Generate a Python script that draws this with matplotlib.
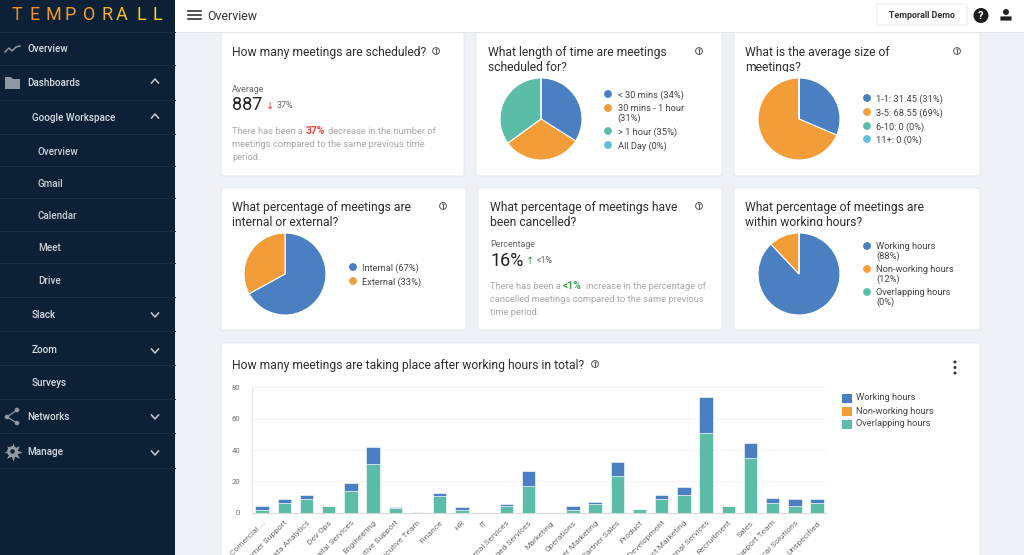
import matplotlib
matplotlib.use("Agg")
import matplotlib.pyplot as plt
from matplotlib.patches import Rectangle, FancyBboxPatch, Circle, Polygon

plt.rcParams["font.family"] = ["Roboto", "DejaVu Sans"]

BLUE = "#4a7fc1"
ORANGE = "#f29d38"
GREEN = "#5bbda8"
LIGHT = "#5fc0dc"
NAVY = "#0d2136"

# pies
length_vals = [34, 31, 35, 0]
length_labels = ["< 30 mins (34%)", "30 mins - 1 hour\n(31%)", "> 1 hour (35%)", "All Day (0%)"]
size_vals = [31.45, 68.55, 0, 0]
size_labels = ["1-1: 31.45 (31%)", "3-5: 68.55 (69%)", "6-10: 0 (0%)", "11+: 0 (0%)"]
internal_vals = [67, 33]
internal_labels = ["Internal (67%)", "External (33%)"]
hours_vals = [88, 12, 0]
hours_labels = ["Working hours\n(88%)", "Non-working hours\n(12%)", "Overlapping hours\n(0%)"]

# bar chart
teams = ["Comercial ...", "Customer Support", "Data Analytics", "Dev Ops", "Digital Services",
         "Engineering", "Executive Support", "Executive Team", "Finance", "HR", "IT",
         "Internal Services", "Managed Services", "Marketing", "Operations", "Partner Marketing",
         "Partner Sales", "Product", "Product Development", "Product Marketing",
         "Professional Services", "Recruitment", "Sales", "Support Team",
         "Technical Solutions", "Unspecified"]
overlapping = [2, 6.5, 9, 4.5, 14, 31, 3, 0.5, 10.5, 1.5, 0, 4.5, 17, 0, 1.5, 5.5,
               23.5, 2.5, 8.5, 11.5, 51, 4.5, 35, 6.5, 4.5, 6.5]
working = [2.5, 2, 2.5, 0, 5, 11, 0.5, 0, 2, 2, 0, 1, 9.5, 0, 3, 1.5,
           9, 0, 2.5, 5, 22.5, 0, 9.5, 3, 4, 2]
y_ticks = [0, 20, 40, 60, 80]

menu = [("Overview", 27, 49, "#d5dbe2"), ("Dashboards", 27, 83, "#d5dbe2"),
        ("Google Workspace", 32, 118, "#d5dbe2"), ("Overview", 38, 152, "#c8d0d8"),
        ("Gmail", 38, 184, "#c8d0d8"), ("Calendar", 38, 216, "#c8d0d8"),
        ("Meet", 38, 248, "#c8d0d8"), ("Drive", 38, 281, "#c8d0d8"),
        ("Slack", 32, 315, "#d5dbe2"), ("Zoom", 32, 350, "#d5dbe2"),
        ("Surveys", 32, 383, "#d5dbe2"), ("Networks", 27, 417, "#d5dbe2"),
        ("Manage", 27, 452, "#d5dbe2")]
menu_lines = [32, 65, 100, 134, 166, 198, 231, 263, 297, 331, 365, 399, 433, 468]
chevrons = [(155, 81, 1), (155, 116, 1), (155, 315, -1), (155, 351, -1), (155, 417, -1), (155, 453, -1)]

fig = plt.figure(figsize=(10.24, 5.55), dpi=100, facecolor="#eef1f6")
bg = fig.add_axes([0, 0, 1, 1])
bg.set_xlim(0, 1024)
bg.set_ylim(555, 0)
bg.axis("off")


def card(x0, y0, x1, y1):
    bg.add_patch(FancyBboxPatch((x0 + 2, y0 + 2), x1 - x0 - 4, y1 - y0 - 4, boxstyle="round,pad=2",
                                fc="white", ec="#e4e7ec", lw=0.7, zorder=1))


def title(x, y, s):
    bg.text(x, y, s, fontsize=8.75, color="#2e2e2e", va="center", linespacing=1.2, zorder=3)


def info(x, y):
    bg.add_patch(Circle((x, y), 3.4, fc="none", ec="#555555", lw=0.7, zorder=3))
    bg.plot([x, x], [y - 0.6, y + 1.8], color="#555555", lw=0.7, zorder=3)
    bg.plot([x], [y - 1.8], ".", color="#555555", ms=1, zorder=3)


def pie(cx, cy, r, vals, colors):
    ax = fig.add_axes([(cx - r) / 1024, 1 - (cy + r) / 555, 2 * r / 1024, 2 * r / 555])
    ax.pie(vals, colors=colors, startangle=90, counterclock=False, radius=1,
           wedgeprops=dict(edgecolor="white", linewidth=0.8))
    ax.set_xlim(-1, 1)
    ax.set_ylim(-1, 1)


def legend(x, ys, labels, colors):
    for y, lab, c in zip(ys, labels, colors):
        bg.add_patch(Circle((x, y), 3.9, fc=c, ec="none", zorder=3))
        bg.text(x + 9.5, y - 4, lab, fontsize=6.65, color="#444444", va="top", linespacing=1.12, zorder=3)


# cards
card(221, 20, 464, 176)
card(476, 20, 722, 176)
card(734, 20, 980, 176)
card(221, 188, 466, 330)
card(478, 188, 722, 330)
card(734, 188, 980, 330)
card(221, 343, 980, 580)

title(232, 52.5, "How many meetings are scheduled?")
info(436, 51)
title(488, 60, "What length of time are meetings\nscheduled for?")
info(699, 51)
title(745, 60, "What is the average size of\nmeetings?")
info(957, 51)
title(232, 215, "What percentage of meetings are\ninternal or external?")
info(443, 206)
title(490, 215, "What percentage of meetings have\nbeen cancelled?")
info(699, 206)
title(745, 215, "What percentage of meetings are\nwithin working hours?")
title(232, 366, "How many meetings are taking place after working hours in total?")
info(595, 364)
# descenders of these two titles are cut off in the page
bg.add_patch(Rectangle((745, 72), 120, 4, fc="white", ec="none", zorder=3.5))
bg.add_patch(Rectangle((745, 226), 120, 4, fc="white", ec="none", zorder=3.5))

# first stat card
bg.text(232, 90, "Average", fontsize=6.4, color="#666666", va="center", zorder=3)
bg.text(232, 105.5, "887", fontsize=13, color="#222222", va="center", zorder=3)
bg.text(270, 105.5, "↓", fontsize=7, color="#e8413c", va="center", ha="center", family="DejaVu Sans", zorder=3)
bg.text(277, 105.5, "37%", fontsize=6.4, color="#666666", va="center", zorder=3)
bg.text(232, 131.5, "There has been a", fontsize=6.75, color="#a9a9a9", va="center", zorder=3)
bg.text(305.5, 131, "37%", fontsize=7.4, color="#e8413c", weight="bold", va="center", zorder=3)
bg.text(328, 131.5, "decrease in the number of", fontsize=6.75, color="#a9a9a9", va="center", zorder=3)
bg.text(232, 144.5, "meetings compared to the same previous time", fontsize=6.75, color="#a9a9a9", va="center", zorder=3)
bg.text(232, 157.5, "period.", fontsize=6.75, color="#a9a9a9", va="center", zorder=3)

# second stat card
bg.text(490, 244.5, "Percentage", fontsize=6.4, color="#666666", va="center", zorder=3)
bg.text(490, 260.5, "16%", fontsize=13, color="#222222", va="center", zorder=3)
bg.text(530, 260.5, "↑", fontsize=7, color="#3fa34d", va="center", ha="center", family="DejaVu Sans", zorder=3)
bg.text(537, 260.5, "<1%", fontsize=6.4, color="#666666", va="center", zorder=3)
bg.text(490, 286.5, "There has been a", fontsize=6.75, color="#a9a9a9", va="center", zorder=3)
bg.text(563, 286, "<1%", fontsize=7.4, color="#3fa34d", weight="bold", va="center", zorder=3)
bg.text(585.5, 286.5, "increase in the percentage of", fontsize=6.75, color="#a9a9a9", va="center", zorder=3)
bg.text(490, 299.5, "cancelled meetings compared to the same previous", fontsize=6.75, color="#a9a9a9", va="center", zorder=3)
bg.text(490, 312.5, "time period.", fontsize=6.75, color="#a9a9a9", va="center", zorder=3)

# pies + legends
pie(541, 119, 41, length_vals, [BLUE, ORANGE, GREEN, LIGHT])
legend(608, [94, 108, 131, 145], length_labels, [BLUE, ORANGE, GREEN, LIGHT])
pie(799, 119, 41, size_vals, [BLUE, ORANGE, GREEN, LIGHT])
legend(867, [98, 112, 126, 139], size_labels, [BLUE, ORANGE, GREEN, LIGHT])
pie(285, 274, 41, internal_vals, [BLUE, ORANGE])
legend(353, [267, 281], internal_labels, [BLUE, ORANGE])
pie(799, 274, 41, hours_vals, [BLUE, ORANGE, GREEN])
legend(867, [246, 269, 292], hours_labels, [BLUE, ORANGE, GREEN])

# stacked bars
ax = fig.add_axes([251.5 / 1024, 1 - 512.7 / 555, (826 - 251.5) / 1024, 125.4 / 555])
xs = list(range(len(teams)))
ax.bar(xs, overlapping, width=0.6, color=GREEN, edgecolor="white", linewidth=0.4, zorder=2)
ax.bar(xs, working, bottom=overlapping, width=0.6, color=BLUE, edgecolor="white", linewidth=0.4, zorder=2)
ax.set_xlim(-0.48, 25.4)
ax.set_ylim(0, 80)
ax.set_yticks(y_ticks)
ax.set_xticks(xs)
ax.set_xticklabels(teams, rotation=45, ha="right", rotation_mode="anchor")
ax.tick_params(axis="x", length=0, labelsize=6, labelcolor="#707070", pad=5)
ax.tick_params(axis="y", length=0, labelsize=5.6, labelcolor="#707070", pad=8)
ax.grid(axis="y", color="#f3f3f3", lw=0.7, zorder=0)
for s in ["top", "right"]:
    ax.spines[s].set_visible(False)
ax.spines["left"].set_color("#e6e6e6")
ax.spines["bottom"].set_color("#d8d8d8")
ax.patch.set_alpha(0)
legend_y = [398, 411, 424]
for y, lab, c in zip(legend_y, ["Working hours", "Non-working hours", "Overlapping hours"], [BLUE, ORANGE, GREEN]):
    bg.add_patch(Rectangle((842, y - 4.5), 10, 9, fc=c, ec="none", zorder=3))
    bg.text(856, y, lab, fontsize=6.7, color="#444444", va="center", zorder=3)
for y in [362, 367.5, 373]:
    bg.add_patch(Circle((955, y), 1.5, fc="#333333", ec="none", zorder=3))

# top bar
bg.add_patch(Rectangle((175, 0), 849, 32, fc="white", ec="none", zorder=4))
bg.plot([175, 1024], [32, 32], color="#e3e5e9", lw=0.8, zorder=4)
for y in [11, 15, 19]:
    bg.plot([188, 201], [y, y], color="#333333", lw=1.2, zorder=5)
bg.text(207, 16, "Overview", fontsize=8.9, color="#333333", va="center", zorder=5)
bg.add_patch(FancyBboxPatch((878, 5), 88, 19, boxstyle="round,pad=1", fc="white", ec="#ececec", lw=0.7, zorder=5))
bg.text(922, 15.5, "Temporall Demo", fontsize=6.4, weight="bold", color="#333333", ha="center", va="center", zorder=6)
bg.add_patch(Circle((981, 15.5), 7.5, fc="#1c1c1c", ec="none", zorder=5))
bg.text(981, 15.8, "?", fontsize=8, weight="bold", color="white", ha="center", va="center", zorder=6)
bg.add_patch(Circle((1006, 12), 3, fc="#222222", ec="none", zorder=5))
bg.add_patch(FancyBboxPatch((1001, 17), 10, 3, boxstyle="round,pad=0.6", fc="#222222", ec="none", zorder=5))

# sidebar
bg.add_patch(Rectangle((0, 0), 175, 555, fc=NAVY, ec="none", zorder=4))
for y in menu_lines:
    bg.plot([0, 175], [y, y], color="#1c3148", lw=0.7, zorder=5)
for lab, x, y, c in menu:
    bg.text(x, y, lab, fontsize=7.1, color=c, weight="medium", va="center", zorder=6)
for x, y, d in chevrons:
    bg.plot([x - 3.5, x, x + 3.5], [y + 2 * d, y - 2 * d, y + 2 * d], color="#c5ccd4", lw=1.1, zorder=6)
logo = "TEMPORALL"
logo_x = [17, 35, 53, 70, 89, 107, 122, 141, 157]
logo_c = ["#f28a2e", "#f28f2e", "#f2952e", "#f39c2e", "#f4a42e", "#f5ae2e", "#f6b92e", "#f8c92e", "#f9d52e"]
for ch, x, c in zip(logo, logo_x, logo_c):
    bg.text(x, 15.5, ch, fontsize=13, color=c, ha="center", va="center", zorder=6)
# menu icons
bg.plot([5, 9, 12, 16, 20], [52, 48, 51, 47, 46], color="#8f99a3", lw=1.1, zorder=6)
bg.add_patch(Polygon([(5, 77), (11, 77), (13, 79), (20, 79), (20, 89), (5, 89)], fc="#8f99a3", ec="none", zorder=6))
for px, py in [(7, 417), (17, 410), (17, 423)]:
    bg.plot([7, px], [417, py], color="#8f99a3", lw=0.9, zorder=6)
    bg.add_patch(Circle((px, py), 2.3, fc="#8f99a3", ec="none", zorder=6))
bg.plot([12.5], [451.5], marker=(8, 1, 0), ms=13, color="#8f99a3", mec="none", zorder=6)
bg.add_patch(Circle((12.5, 451.5), 5.3, fc="#8f99a3", ec="none", zorder=6))
bg.add_patch(Circle((12.5, 451.5), 2.2, fc=NAVY, ec="none", zorder=6))

fig.savefig("out.png", dpi=100, facecolor=fig.get_facecolor())
